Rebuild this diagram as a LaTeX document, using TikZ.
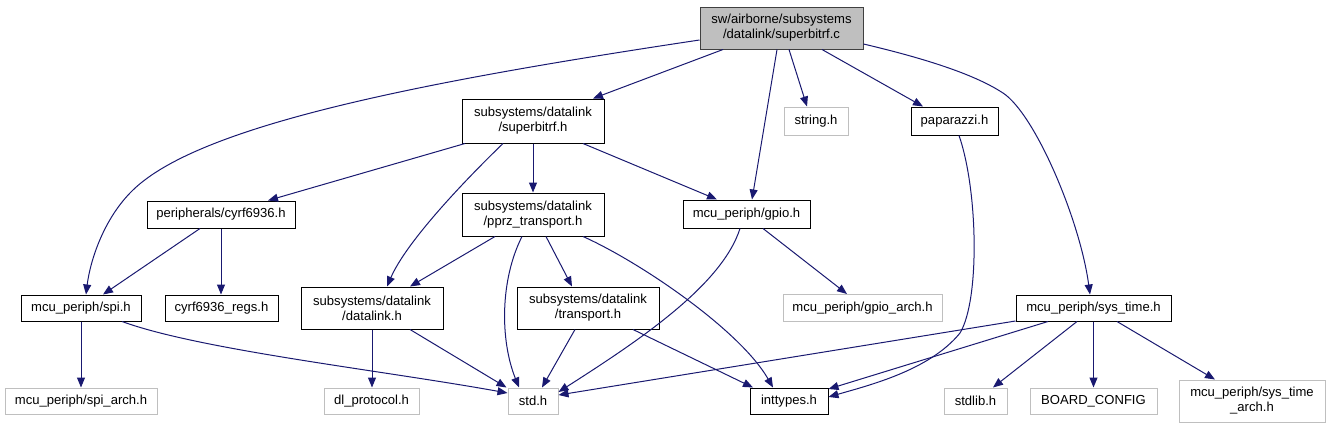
\documentclass[tikz,border=0pt]{standalone}
\usepackage{fontspec}
\setmainfont{Liberation Sans}
\usetikzlibrary{arrows.meta,calc}
\definecolor{edgec}{HTML}{191970}
\definecolor{lgray}{HTML}{BFBFBF}
\tikzset{
  nbox/.style={draw=black,line width=0.75pt,fill=white,inner sep=0pt,align=center,font=\fontsize{9.8pt}{11.3pt}\selectfont},
  gbox/.style={nbox,draw=lgray},
  rootbox/.style={nbox,draw=black!75,fill=lgray},
  nw/.style={minimum width=#1*0.75pt},
  nh/.style={minimum height=#1*0.75pt},
  dep/.style={draw=edgec,line width=0.75pt,-{Triangle[length=7.5pt,width=6pt]}},
}
\begin{document}
\begin{tikzpicture}[x=0.75pt,y=-0.75pt]
\useasboundingbox (0,0) rectangle (1329,429);
% nodes
\node[rootbox,nw=163,nh=42] (root) at (781.5,28) {sw/airborne/subsystems\\/datalink/superbitrf.c};
\node[nbox,nw=142,nh=44] (sbrf) at (533,121) {subsystems/datalink\\/superbitrf.h};
\node[gbox,nw=64,nh=28] (str) at (816,121) {string.h};
\node[nbox,nw=87,nh=28] (pap) at (954.5,121) {paparazzi.h};
\node[nbox,nw=148,nh=27] (cyrf) at (221,214.5) {peripherals/cyrf6936.h};
\node[nbox,nw=142,nh=43] (pprz) at (533,214.5) {subsystems/datalink\\/pprz\_transport.h};
\node[nbox,nw=127,nh=28] (gpio) at (746.5,214) {mcu\_periph/gpio.h};
\node[nbox,nw=120,nh=26] (spi) at (81,308) {mcu\_periph/spi.h};
\node[nbox,nw=113,nh=26] (regs) at (221.5,308) {cyrf6936\_regs.h};
\node[nbox,nw=142,nh=42] (dl) at (372,308) {subsystems/datalink\\/datalink.h};
\node[nbox,nw=142,nh=42] (tr) at (588,308) {subsystems/datalink\\/transport.h};
\node[gbox,nw=159,nh=27] (garch) at (862.5,308) {mcu\_periph/gpio\_arch.h};
\node[nbox,nw=155,nh=26] (syst) at (1093.5,308) {mcu\_periph/sys\_time.h};
\node[gbox,nw=152,nh=26] (sarch) at (81,401) {mcu\_periph/spi\_arch.h};
\node[gbox,nw=95,nh=26] (dlp) at (371.5,401) {dl\_protocol.h};
\node[gbox,nw=50,nh=26] (std) at (533,401) {std.h};
\node[nbox,nw=78,nh=26] (intt) at (789,401) {inttypes.h};
\node[gbox,nw=63,nh=26] (stdlib) at (975.5,401) {stdlib.h};
\node[gbox,nw=127,nh=26] (board) at (1093.5,401) {BOARD\_CONFIG};
\node[gbox,nw=146,nh=42] (starch) at (1252,401) {mcu\_periph/sys\_time\\\_arch.h};
% edges from root
\draw[dep] ($(root.west)+(0,12)$) .. controls (420,82) and (200,125) .. (133,190) .. controls (103,219) and (90,262) .. ($(spi.north)+(5,0)$);
\draw[dep] ($(root.south)+(-58.5,0)$) -- ($(sbrf.north)+(60,0)$);
\draw[dep] ($(root.south)+(-4.5,0)$) -- ($(gpio.north)+(5.5,0)$);
\draw[dep] ($(root.south)+(7.5,0)$) -- ($(str.north)+(-9,0)$);
\draw[dep] ($(root.south)+(40.5,0)$) -- ($(pap.north)+(-31.5,0)$);
\draw[dep] ($(root.east)+(0,16)$) .. controls (940,62) and (980,78) .. (1003,93) .. controls (1035,114) and (1080,220) .. ($(syst.north)+(-3.5,0)$);
% superbitrf.h
\draw[dep] ($(sbrf.south)+(-68,0)$) -- ($(cyrf.north)+(47,0)$);
\draw[dep] ($(sbrf.south)+(-30,0)$) .. controls (455,190) and (405,245) .. ($(dl.north)+(15,0)$);
\draw[dep] (sbrf.south) -- (pprz.north);
\draw[dep] ($(sbrf.south)+(50,0)$) -- ($(gpio.north)+(-29.5,0)$);
% cyrf6936.h
\draw[dep] ($(cyrf.south)+(-21,0)$) -- ($(spi.north)+(22,0)$);
\draw[dep] (cyrf.south) -- (cyrf.south |- regs.north);
% pprz_transport.h
\draw[dep] ($(pprz.south)+(-38,0)$) -- ($(dl.north)+(38,0)$);
\draw[dep] ($(pprz.south)+(-11,0)$) .. controls (500,280) and (500,340) .. ($(std.north)+(-14,0)$);
\draw[dep] ($(pprz.south)+(13,0)$) -- ($(tr.north)+(-16,0)$);
\draw[dep] ($(pprz.south)+(50,0)$) .. controls (640,262) and (740,330) .. ($(intt.north)+(-16,0)$);
% gpio.h
\draw[dep] ($(gpio.south)+(-6.5,0)$) .. controls (722,285) and (640,340) .. ($(std.east)+(0,-9)$);
\draw[dep] ($(gpio.south)+(16.5,0)$) -- ($(garch.north)+(-15.5,0)$);
% paparazzi.h
\draw[dep] ($(pap.south)+(4.5,0)$) .. controls (978,190) and (980,300) .. (960,333) .. controls (930,370) and (870,385) .. ($(intt.east)+(0,-4)$);
% sys_time.h
\draw[dep] ($(syst.south)+(-45.5,0)$) -- ($(intt.east)+(0,-12)$);
\draw[dep] ($(syst.west)+(0,13)$) -- ($(std.east)+(0,-6)$);
\draw[dep] ($(syst.south)+(-16.5,0)$) -- ($(stdlib.north)+(17.5,0)$);
\draw[dep] (syst.south) -- (board.north);
\draw[dep] ($(syst.south)+(23.5,0)$) -- ($(starch.north)+(-37,0)$);
% spi.h
\draw[dep] (spi.south) -- (sarch.north);
\draw[dep] ($(spi.south)+(41,0)$) .. controls (200,350) and (380,370) .. ($(std.west)+(0,-8)$);
% datalink.h
\draw[dep] (dl.south) -- (dl.south |- dlp.north);
\draw[dep] ($(dl.south)+(38,0)$) -- ($(std.north west)+(-1,0)$);
% transport.h
\draw[dep] ($(tr.south)+(-13,0)$) -- ($(std.north)+(9,0)$);
\draw[dep] ($(tr.south)+(45,0)$) -- ($(intt.north)+(-36,0)$);
\end{tikzpicture}
\end{document}
